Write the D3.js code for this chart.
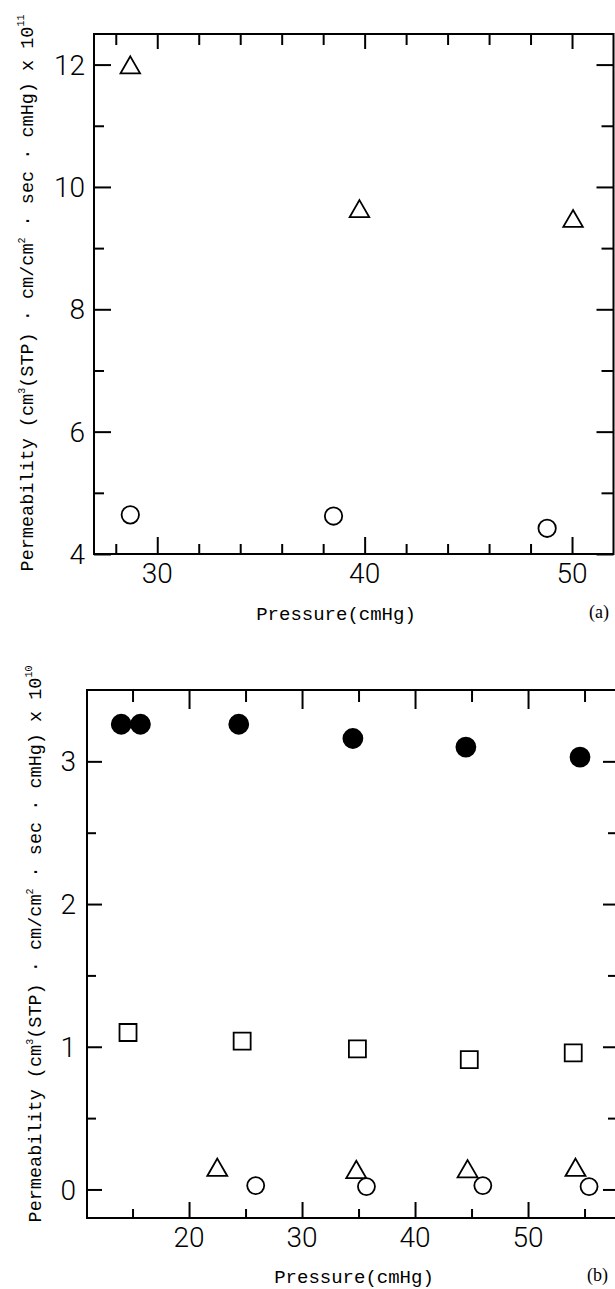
<html>
<head>
<script src="https://d3js.org/d3.v7.min.js"></script>
<style>
  body { margin: 0; background: #fff; }
</style>
</head>
<body>
<svg id="chart" width="615" height="1289"></svg>
<script>
// panel (a)
const aPressTri = [28.7, 39.75, 50.05]
const aPermTri = [11.95, 9.6, 9.44]
const aPressCirc = [28.7, 38.5, 48.8]
const aPermCirc = [4.64, 4.62, 4.42]
const aXTicks = [28, 30, 32, 34, 36, 38, 40, 42, 44, 46, 48, 50]
const aXLabels = [30, 40, 50]
const aYTicks = [4, 5, 6, 7, 8, 9, 10, 11, 12]
const aYLabels = [4, 6, 8, 10, 12]

// panel (b)
const bPressFilled = [14.0, 15.7, 24.4, 34.5, 44.5, 54.6]
const bPermFilled = [3.26, 3.26, 3.26, 3.16, 3.10, 3.03]
const bPressSquare = [14.6, 24.7, 34.9, 44.8, 54.0]
const bPermSquare = [1.10, 1.04, 0.985, 0.91, 0.957]
const bPressTri = [22.5, 34.8, 44.65, 54.2]
const bPermTri = [0.135, 0.12, 0.125, 0.135]
const bPressOpen = [25.9, 35.7, 46.0, 55.4]
const bPermOpen = [0.027, 0.02, 0.027, 0.02]
const bXTicks = [15, 20, 25, 30, 35, 40, 45, 50, 55]
const bXLabels = [20, 30, 40, 50]
const bYTicks = [0, 0.5, 1, 1.5, 2, 2.5, 3]
const bYLabels = [0, 1, 2, 3]

const svg = d3.select('svg#chart')
svg.append('rect').attr('width', 615).attr('height', 1289).attr('fill', '#fff')

const tickFont = 'Roboto, "Liberation Sans", sans-serif'
const monoFont = '"Liberation Mono", "DejaVu Sans Mono", monospace'

function zip(xs, ys) { return xs.map((x, i) => [x, ys[i]]) }

function drawPanel(p) {
    const x = d3.scaleLinear().domain(p.xDomain).range(p.xRange)
    const y = d3.scaleLinear().domain(p.yDomain).range(p.yRange)
    const g = svg.append('g').attr('class', 'panel ' + p.name)
    const left = p.xRange[0], right = p.xRange[1]
    const bottom = p.yRange[0], top = p.yRange[1]

    const isMajorX = d => p.xLabels.includes(d)
    const isMajorY = d => p.yLabels.includes(d)

    // tick marks pointing inward, one axis per side
    function ticks(axisFn, scale, vals, isMajor, len, tr) {
        vals.forEach(v => {
            const a = axisFn(scale).tickValues([v]).tickSizeOuter(0).tickFormat('')
                .tickSize(-(isMajor(v) ? len[0] : len[1]))
            g.append('g').attr('transform', tr).call(a)
              .call(s => s.select('.domain').remove())
        })
    }
    ticks(d3.axisBottom, x, p.xTicks, isMajorX, p.tickB, `translate(0,${bottom})`)
    ticks(d3.axisTop, x, p.xTicks, isMajorX, p.tickT, `translate(0,${top})`)
    ticks(d3.axisLeft, y, p.yTicks, isMajorY, p.tickL, `translate(${left},0)`)
    ticks(d3.axisRight, y, p.yTicks, isMajorY, p.tickR, `translate(${right},0)`)

    // frame
    g.append('path')
      .attr('d', `M${left},${top}H${right}V${bottom}H${left}Z`)
      .attr('fill', 'none').attr('stroke', '#000').attr('stroke-width', 2)
    g.selectAll('.tick line').attr('stroke', '#000').attr('stroke-width', 2)

    // tick labels
    g.selectAll('text.xlab').data(p.xLabels).join('text')
      .attr('class', 'xlab')
      .attr('x', d => x(d)).attr('y', bottom + 29)
      .attr('text-anchor', 'middle')
      .attr('font-family', tickFont).attr('font-weight', 300).attr('font-size', 28)
      .text(d => d)
    g.selectAll('text.ylab').data(p.yLabels).join('text')
      .attr('class', 'ylab')
      .attr('x', left - p.yLabGap).attr('y', d => y(d)).attr('dy', '0.36em')
      .attr('text-anchor', 'end')
      .attr('font-family', tickFont).attr('font-weight', 300).attr('font-size', 28)
      .text(d => d)

    // markers
    p.series.forEach(s => {
        const sym = d3.symbol().type(s.type).size(s.size)
        g.selectAll(null).data(zip(s.px, s.py)).join('path')
          .attr('transform', d => `translate(${x(d[0])},${y(d[1])})`)
          .attr('d', sym)
          .attr('fill', s.filled ? '#000' : 'none')
          .attr('stroke', '#000').attr('stroke-width', 1.8)
    })

    // axis titles
    const yt = g.append('text')
      .attr('transform', `translate(${p.yTitleX},${p.yTitleY}) rotate(-90)`)
      .attr('text-anchor', 'middle')
      .attr('font-family', monoFont).attr('font-size', 18.5)
    yt.append('tspan').text('Permeability (cm')
    yt.append('tspan').attr('dy', -8).attr('font-size', 10).text('3')
    yt.append('tspan').attr('dy', 8).text('(STP) \u00b7 cm/cm')
    yt.append('tspan').attr('dy', -8).attr('font-size', 10).text('2')
    yt.append('tspan').attr('dy', 8).text(' \u00b7 sec \u00b7 cmHg) x 10')
    yt.append('tspan').attr('dy', -9).attr('font-size', 10).text(p.exp)

    g.append('text')
      .attr('x', p.xTitleX).attr('y', p.xTitleY)
      .attr('text-anchor', 'middle')
      .attr('font-family', monoFont).attr('font-size', 19)
      .text('Pressure(cmHg)')

    g.append('text')
      .attr('x', p.tagX).attr('y', p.xTitleY - 2)
      .attr('font-family', '"Liberation Serif", serif').attr('font-size', 18)
      .text(p.tag)
}

drawPanel({
    name: 'a',
    xDomain: [26.95, 52], xRange: [94, 613.5],
    yDomain: [4, 12.5], yRange: [554, 34],
    xTicks: aXTicks, xLabels: aXLabels, yTicks: aYTicks, yLabels: aYLabels,
    tickB: [17, 10], tickT: [15, 11], tickL: [17, 10], tickR: [17, 12],
    yLabGap: 9,
    series: [
        { px: aPressTri, py: aPermTri, type: d3.symbolTriangle, size: 165, filled: false },
        { px: aPressCirc, py: aPermCirc, type: d3.symbolCircle, size: Math.PI * 8.7 * 8.7, filled: false }
    ],
    yTitleX: 33, yTitleY: 293, exp: '11',
    xTitleX: 336, xTitleY: 620, tagX: 589, tag: '(a)'
})

drawPanel({
    name: 'b',
    xDomain: [10.97, 58.05], xRange: [87, 619],
    yDomain: [-0.2, 3.5], yRange: [1218, 690],
    xTicks: bXTicks, xLabels: bXLabels, yTicks: bYTicks, yLabels: bYLabels,
    tickB: [16, 9], tickT: [19, 12], tickL: [15, 9], tickR: [16, 11],
    yLabGap: 11,
    series: [
        { px: bPressFilled, py: bPermFilled, type: d3.symbolCircle, size: Math.PI * 9.5 * 9.5, filled: true },
        { px: bPressSquare, py: bPermSquare, type: d3.symbolSquare, size: 289, filled: false },
        { px: bPressTri, py: bPermTri, type: d3.symbolTriangle, size: 173, filled: false },
        { px: bPressOpen, py: bPermOpen, type: d3.symbolCircle, size: Math.PI * 8.5 * 8.5, filled: false }
    ],
    yTitleX: 41, yTitleY: 944, exp: '10',
    xTitleX: 354, xTitleY: 1283, tagX: 587, tag: '(b)'
})
</script>
</body>
</html>
